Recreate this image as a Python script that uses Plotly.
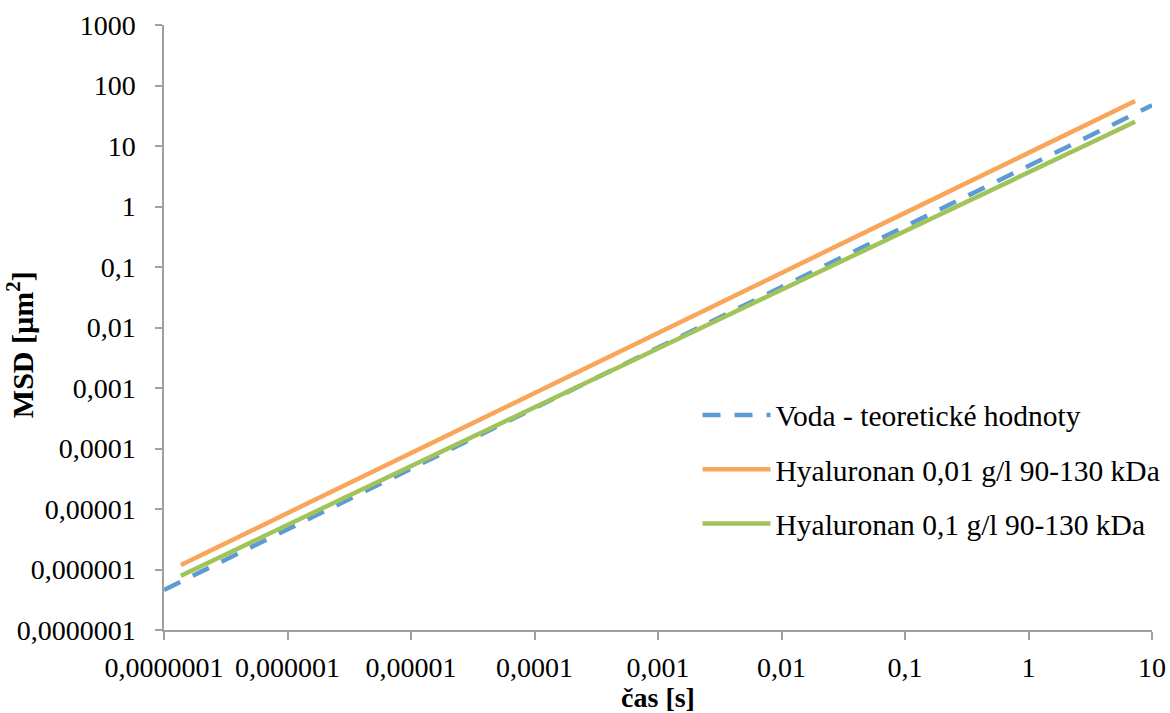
import plotly.graph_objects as go

# ---- data ----
t_voda = [1e-7, 1e-6, 1e-5, 1e-4, 1e-3, 1e-2, 1e-1, 1, 10]
msd_voda = [4.6e-7, 4.6e-6, 4.6e-5, 4.6e-4, 4.6e-3, 0.046, 0.46, 4.6, 47]

t_hya = [1.37e-7, 1e-6, 1e-5, 1e-4, 1e-3, 1e-2, 1e-1, 1, 7.3]
msd_hya_001 = [1.19e-6, 8.5e-6, 8.4e-5, 8.2e-4, 8.1e-3, 0.080, 0.785, 7.7, 55.5]
msd_hya_01 = [7.9e-7, 5.4e-6, 5.1e-5, 4.8e-4, 4.5e-3, 0.042, 0.39, 3.7, 25.2]

names = ["Voda - teoretické hodnoty",
         "Hyaluronan 0,01 g/l 90-130 kDa",
         "Hyaluronan 0,1 g/l 90-130 kDa"]

x_tickvals = [1e-7, 1e-6, 1e-5, 1e-4, 1e-3, 1e-2, 1e-1, 1, 10]
x_ticktext = ["0,0000001", "0,000001", "0,00001", "0,0001", "0,001", "0,01", "0,1", "1", "10"]
y_tickvals = [1e-7, 1e-6, 1e-5, 1e-4, 1e-3, 1e-2, 1e-1, 1, 10, 100, 1000]
y_ticktext = ["0,0000001", "0,000001", "0,00001", "0,0001", "0,001", "0,01", "0,1", "1", "10", "100", "1000"]

FONT = "Liberation Serif"
AXIS_COLOR = "#a0a0a0"

fig = go.Figure()
fig.add_trace(go.Scatter(x=t_voda, y=msd_voda, mode="lines", name=names[0],
                         legendgroup="a",
                         line=dict(color="#5e9bd3", width=4.5, dash="18px,14px")))
fig.add_trace(go.Scatter(x=t_hya, y=msd_hya_001, mode="lines", name=names[1],
                         legendgroup="b",
                         line=dict(color="#f9a65a", width=4.5)))
fig.add_trace(go.Scatter(x=t_hya, y=msd_hya_01, mode="lines", name=names[2],
                         legendgroup="c",
                         line=dict(color="#a0c35a", width=4.5)))

fig.add_annotation(x=-0.145, y=0.472, xref="paper", yref="paper",
                   xanchor="center", yanchor="middle", textangle=-90,
                   text="<b>MSD [µm<sup>2</sup>]</b>", showarrow=False,
                   font=dict(family=FONT, size=30, color="black"))

fig.update_layout(
    width=1170, height=713,
    margin=dict(l=164, r=18, t=25, b=83, autoexpand=False),
    paper_bgcolor="white", plot_bgcolor="white",
    font=dict(family=FONT, size=28, color="black"),
    showlegend=True,
    legend=dict(x=0.54, y=0.398, xanchor="left", yanchor="top",
                font=dict(family=FONT, size=29.5, color="black"),
                itemwidth=68, tracegroupgap=13, bgcolor="rgba(0,0,0,0)"),
    xaxis=dict(type="log", range=[-7, 1], automargin=False,
               tickvals=x_tickvals, ticktext=x_ticktext,
               showgrid=False, zeroline=False,
               showline=True, linecolor=AXIS_COLOR, linewidth=1.5,
               ticks="outside", ticklen=8, tickcolor=AXIS_COLOR, tickwidth=1.5,
               ticklabelstandoff=4,
               tickfont=dict(family=FONT, size=28, color="black"),
               title=dict(text="<b>čas [s]</b>", standoff=5,
                          font=dict(family=FONT, size=28, color="black"))),
    yaxis=dict(type="log", range=[-7, 3], automargin=False,
               tickvals=y_tickvals, ticktext=y_ticktext,
               showgrid=False, zeroline=False,
               showline=True, linecolor=AXIS_COLOR, linewidth=1.5,
               ticks="outside", ticklen=7, tickcolor=AXIS_COLOR, tickwidth=1.5,
               ticklabelstandoff=14,
               tickfont=dict(family=FONT, size=28, color="black")),
)

fig.write_html("out.html")
